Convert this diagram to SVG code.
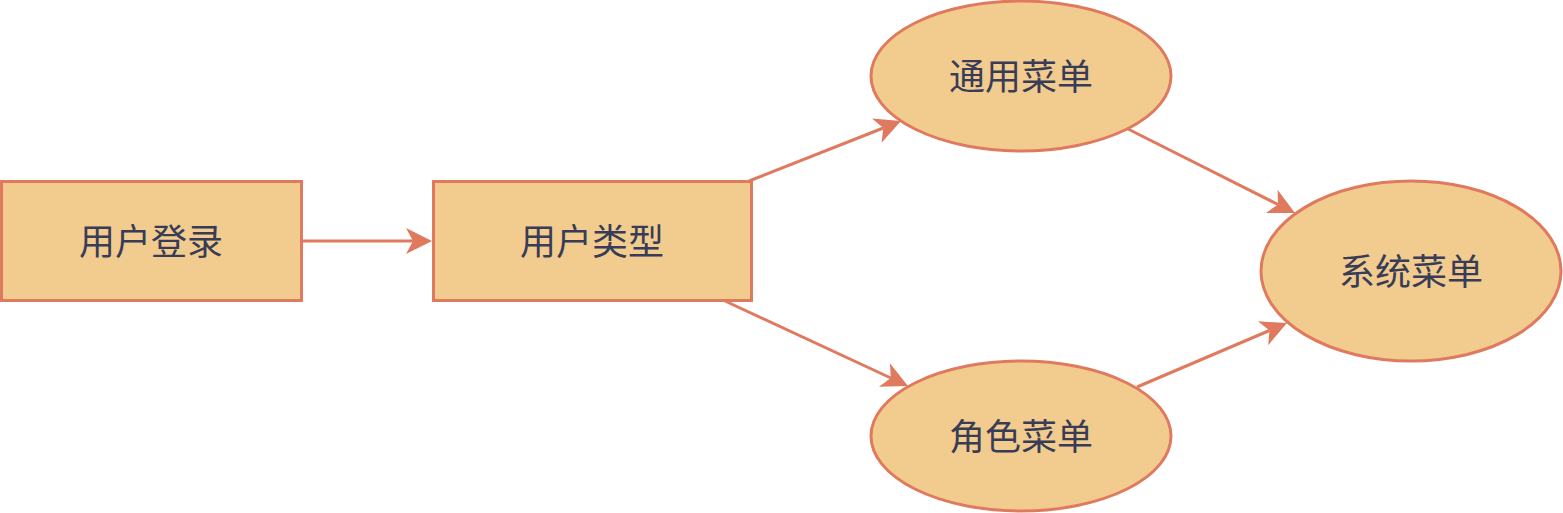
<svg xmlns="http://www.w3.org/2000/svg" width="1563" height="513" viewBox="0 0 1563 513">
  <defs>
    <style>
      .node { fill: #F2CC8F; stroke: #E07A5F; stroke-width: 3; }
      .label { font-family: "Noto Sans CJK SC", "Noto Sans", sans-serif; font-size: 36px; fill: #393C56; text-anchor: middle; }
      .edge { fill: none; stroke: #E07A5F; stroke-width: 3; marker-end: url(#arrow); }
    </style>
    <marker id="arrow" markerUnits="userSpaceOnUse" markerWidth="30" markerHeight="30" viewBox="-1 -15 30 30" refX="7" refY="0" orient="auto">
      <path d="M0,-13 L26,0 L0,13 L7,0 Z" fill="#E07A5F"/>
    </marker>
  </defs>
  <rect width="1563" height="513" fill="#FFFFFF"/>
  <g id="connectors">
    <path class="edge" d="M301,241 L413,241"/>
    <path class="edge" d="M749,181 L883.3,128"/>
    <path class="edge" d="M725,301 L890.8,378"/>
    <path class="edge" d="M1128,129 L1278,204.5"/>
    <path class="edge" d="M1137,387 L1269.5,330.5"/>
  </g>
  <g id="node-login">
    <rect class="node" x="1.5" y="181.5" width="300" height="119"/>
    <text class="label" x="151" y="255">用户登录</text>
  </g>
  <g id="node-usertype">
    <rect class="node" x="433.5" y="181.5" width="318" height="119"/>
    <text class="label" x="592" y="255">用户类型</text>
  </g>
  <g id="node-common">
    <ellipse class="node" cx="1021" cy="76" rx="150" ry="75"/>
    <text class="label" x="1021" y="90">通用菜单</text>
  </g>
  <g id="node-role">
    <ellipse class="node" cx="1021" cy="436" rx="150" ry="75"/>
    <text class="label" x="1021" y="450">角色菜单</text>
  </g>
  <g id="node-system">
    <ellipse class="node" cx="1411" cy="271" rx="150" ry="90"/>
    <text class="label" x="1411" y="285">系统菜单</text>
  </g>
</svg>
